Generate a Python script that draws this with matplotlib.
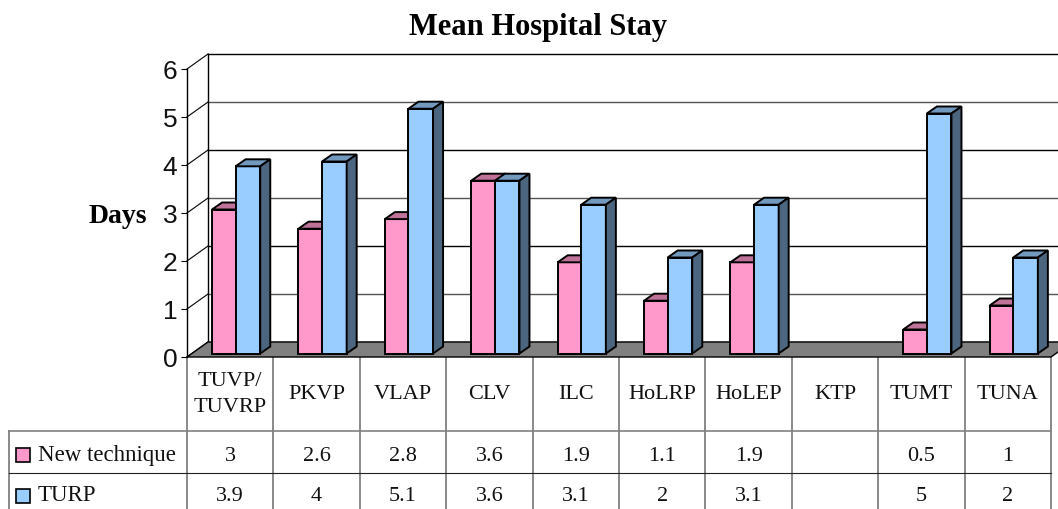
import matplotlib
matplotlib.use('Agg')
from matplotlib import pyplot as plt
from matplotlib.patches import Polygon, Rectangle

categories = ['TUVP/\nTUVRP', 'PKVP', 'VLAP', 'CLV', 'ILC', 'HoLRP', 'HoLEP', 'KTP', 'TUMT', 'TUNA']
new_technique = [3, 2.6, 2.8, 3.6, 1.9, 1.1, 1.9, None, 0.5, 1]
turp = [3.9, 4, 5.1, 3.6, 3.1, 2, 3.1, None, 5, 2]
y_ticks = [0, 1, 2, 3, 4, 5, 6]

W, H = 1058, 510
SERIF = 'Liberation Serif'
# pixel frame of the front axis
LEFT, RIGHT, Y0, Y6 = 187, 1051, 358, 70
CAT_W = (RIGHT - LEFT) / len(categories)
PX_X = 1 / CAT_W
PX_Y = 6 / (Y0 - Y6)
WALL_X, WALL_Y = 21 * PX_X, 15 * PX_Y
DEPTH_X, DEPTH_Y = 10 * PX_X, 7 * PX_Y
LIFT = 3.5 * PX_Y
BAR_W = 0.285


def draw_bar(ax, x, value, face, top, side, z):
    lw = 1.4
    y0, y1 = LIFT, LIFT + value
    ax.bar(x, value, BAR_W, bottom=y0, align='edge', color=face, edgecolor='black',
           linewidth=lw, zorder=z, clip_on=False)
    ax.add_patch(Polygon([(x, y1), (x + DEPTH_X, y1 + DEPTH_Y),
                          (x + BAR_W + DEPTH_X, y1 + DEPTH_Y), (x + BAR_W, y1)],
                         facecolor=top, edgecolor='black', linewidth=lw, zorder=z, clip_on=False))
    ax.add_patch(Polygon([(x + BAR_W, y0), (x + BAR_W + DEPTH_X, y0 + DEPTH_Y),
                          (x + BAR_W + DEPTH_X, y1 + DEPTH_Y), (x + BAR_W, y1)],
                         facecolor=side, edgecolor='black', linewidth=lw, zorder=z, clip_on=False))


def draw_table(tb):
    col_x = [LEFT + i * CAT_W for i in range(len(categories) + 1)]
    grey = '#808080'
    for x in col_x:
        tb.plot([x, x], [358, 510], color=grey, lw=1.3)
    tb.plot([9, 9], [432, 510], color=grey, lw=1.3)
    tb.plot([9, RIGHT], [432, 432], color=grey, lw=1.2)
    tb.plot([9, RIGHT], [474, 474], color='#222222', lw=0.8)

    for i, name in enumerate(categories):
        cx = col_x[i] + CAT_W / 2
        tb.text(cx, 395, name, ha='center', va='center', family=SERIF, fontsize=16,
                linespacing=1.5, color='#111111')
        for value, y in ((new_technique[i], 457), (turp[i], 497)):
            if value is not None:
                tb.text(cx, y, f'{value:g}', ha='center', va='center', family=SERIF,
                        fontsize=16, color='#111111')

    for label, color, y, box_y in (('New technique', '#FF99CC', 456, 456), ('TURP', '#99CCFF', 496, 497)):
        tb.add_patch(Rectangle((16, box_y - 7), 14, 14, facecolor=color, edgecolor='black', linewidth=1.2))
        tb.text(38, y, label, ha='left', va='center', family=SERIF, fontsize=16.5, color='#111111')


def main():
    fig = plt.figure(figsize=(W / 100, H / 100), dpi=100)

    tb = fig.add_axes([0, 0, 1, 1])
    tb.set_xlim(0, W)
    tb.set_ylim(H, 0)
    tb.axis('off')
    draw_table(tb)
    tb.text(538, 28, 'Mean Hospital Stay', ha='center', va='center', family=SERIF,
            fontsize=22, fontweight='bold')
    tb.text(147, 217, 'Days', ha='right', va='center', family=SERIF, fontsize=20, fontweight='bold')

    ax = fig.add_axes([LEFT / W, 1 - Y0 / H, (RIGHT - LEFT) / W, (Y0 - Y6) / H])
    ax.set_xlim(0, len(categories))
    ax.set_ylim(0, 6)
    ax.patch.set_alpha(0)
    for spine in ax.spines.values():
        spine.set_visible(False)
    ax.set_xticks([])
    ax.set_yticks(y_ticks)
    ax.set_yticklabels([str(t) for t in y_ticks], family='Liberation Sans', fontsize=19, color='#111111')
    ax.tick_params(axis='y', length=4, width=0.8, pad=3)

    n = len(categories)
    # back wall gridlines and left wall
    for t in y_ticks:
        colour = 'black' if t % 2 == 0 else '#555555'
        ax.plot([WALL_X, n + WALL_X], [t + WALL_Y, t + WALL_Y], color=colour, lw=1.0, zorder=1, clip_on=False)
        ax.plot([0, WALL_X], [t, t + WALL_Y], color='black', lw=0.8, zorder=1, clip_on=False)
    ax.plot([0, 0], [0, 6], color='black', lw=1.0, zorder=1, clip_on=False)
    ax.plot([WALL_X, WALL_X], [WALL_Y, 6 + WALL_Y], color='black', lw=1.0, zorder=1, clip_on=False)

    # floor
    ax.add_patch(Polygon([(0, 0), (WALL_X, WALL_Y), (n + WALL_X, WALL_Y), (n, 0)],
                         facecolor='#808080', edgecolor='black', linewidth=1.0, zorder=2, clip_on=False))

    z = 3
    for i in range(n):
        if new_technique[i] is None:
            continue
        draw_bar(ax, i + 0.29, new_technique[i], '#FF99CC', '#BF7399', '#804D66', z)
        draw_bar(ax, i + 0.563, turp[i], '#99CCFF', '#7399BF', '#4D6680', z + 1)
        z += 2

    fig.savefig('out.png', dpi=100)


if __name__ == '__main__':
    main()
